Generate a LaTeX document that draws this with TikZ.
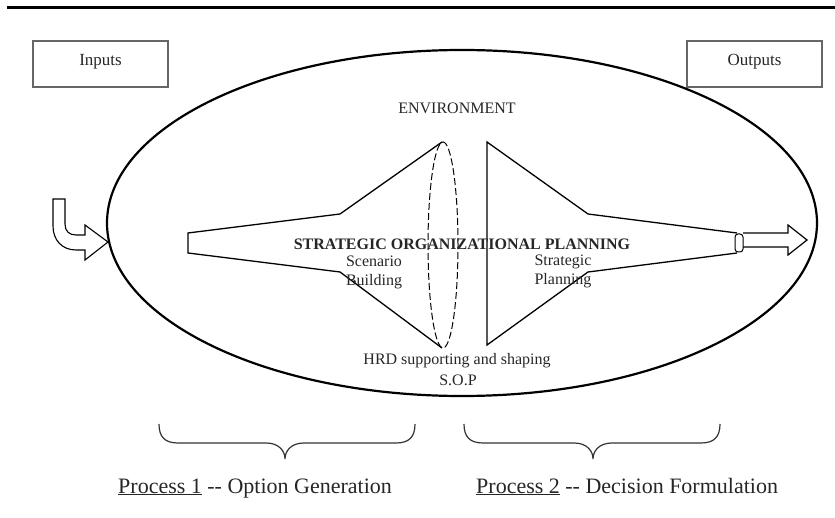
\documentclass[tikz,border=0pt]{standalone}
\usepackage{fontspec}
\setmainfont{Liberation Serif}
\begin{document}
\begin{tikzpicture}[x=1pt,y=-1pt,
  lbl/.style={font=\fontsize{16}{19}\selectfont, text=black!85, inner sep=0pt, anchor=base},
  boxtxt/.style={font=\fontsize{17}{20}\selectfont, text=black!85, inner sep=0pt, anchor=base},
  proc/.style={font=\fontsize{22}{26}\selectfont, text=black!85, inner sep=0pt, anchor=base west},
  iobox/.style={draw=black!60, line width=1.2pt, minimum width=135pt, minimum height=46pt, inner sep=0pt},
  funnel/.style={draw=black, line width=1.3pt, line join=miter},
  brace/.style={draw=black!80, line width=1.2pt},
  ]
\useasboundingbox (0,0) rectangle (835,518);
% top rule
\draw[line width=3pt] (7,8) -- (835,8);
% input / output boxes
\node[iobox] (inbox) at (100.5,64) {};
\node[boxtxt] (inputs) at (100.5,66) {Inputs};
\node[iobox] (outbox) at (754.5,64) {};
\node[boxtxt] (outputs) at (754.5,66) {Outputs};
% environment ellipse
\draw[line width=2.2pt] (462,223) ellipse [x radius=355pt, y radius=173pt];
% left funnel
\draw[funnel] (442,142) -- (340,214) -- (188,233) -- (188,253) -- (340,272) -- (442,348);
% lens
\draw[line width=1pt, dash pattern=on 7pt off 3pt] (443,245) ellipse [x radius=15pt, y radius=103pt];
% right funnel
\draw[funnel] (737,233) -- (588,214) -- (487,142) -- (487,345) -- (588,272) -- (737,253);
\draw[line width=1pt, rounded corners=3pt] (735,234) rectangle (743,252);
% output arrow
\draw[line width=1.2pt, line join=miter] (743,233) -- (788,233) -- (788,225) -- (807,240) -- (788,255) -- (788,247) -- (743,247);
% input arrow
\draw[line width=1.1pt, line join=miter] (53,199) -- (65,199) -- (65,224) .. controls (65,231) and (69,235) .. (76,235) -- (85,235) -- (85,225) -- (108,242) -- (85,260) -- (85,250) -- (76,250) .. controls (62,250) and (53,240) .. (53,226) -- cycle;
% texts
\node[lbl] (env) at (457,113.5) {ENVIRONMENT};
\node[lbl, font=\bfseries\fontsize{16}{19}\selectfont] (title) at (462,250) {STRATEGIC ORGANIZATIONAL PLANNING};
\node[lbl] (scen) at (374,267) {Scenario};
\node[lbl] (build) at (374,286) {Building};
\node[lbl] (strat) at (563,266) {Strategic};
\node[lbl] (plan) at (563,285) {Planning};
\node[lbl] (hrd) at (457,365) {HRD supporting and shaping};
\node[lbl] (sop) at (458,385) {S.O.P};
% braces
\draw[brace] (159,424) .. controls (159,437) and (165,443) .. (178,443) -- (266,443) .. controls (279,443) and (285,451) .. (285,459) .. controls (285,451) and (291,443) .. (304,443) -- (396,443) .. controls (409,443) and (415,437) .. (415,424);
\draw[brace] (464,424) .. controls (464,437) and (470,443) .. (483,443) -- (574,443) .. controls (587,443) and (593,451) .. (593,459) .. controls (593,451) and (599,443) .. (612,443) -- (701,443) .. controls (714,443) and (720,437) .. (720,424);
% process captions
\node[proc] (p1) at (118,493) {\underline{Process 1} -{}- Option Generation};
\node[proc] (p2) at (476,493) {\underline{Process 2} -{}- Decision Formulation};
\end{tikzpicture}
\end{document}
